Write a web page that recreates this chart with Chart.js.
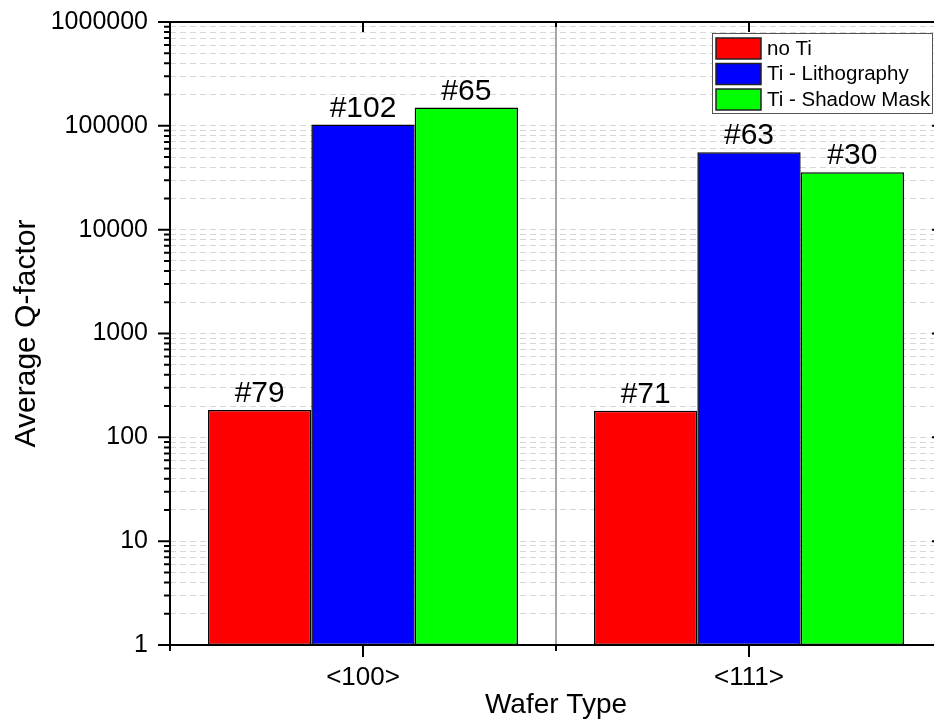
<!DOCTYPE html>
<html>
<head>
<meta charset="utf-8">
<script src="https://cdn.jsdelivr.net/npm/chart.js@4.4.0/dist/chart.umd.min.js"></script>
<style>
  html, body { margin: 0; padding: 0; background: #fff; overflow: hidden; }
  #wrap { width: 960px; height: 724px; }
</style>
</head>
<body>
<div id="wrap"><canvas id="chart" width="960" height="724"></canvas></div>
<script>
const categories = ["<100>", "<111>"];
const seriesNames = ["no Ti", "Ti - Lithography", "Ti - Shadow Mask"];
const seriesColors = ["#ff0000", "#0000ff", "#00ff00"];

const noTi = [183, 180];
const lithography = [103000, 55600];
const shadowMask = [150000, 35700];

const noTiSamples = ["#79", "#71"];
const lithographySamples = ["#102", "#63"];
const shadowMaskSamples = ["#65", "#30"];

const majorTicks = [1, 10, 100, 1000, 10000, 100000, 1000000];
const minorSteps = [2, 3, 4, 5, 6, 7, 8, 9];

const FONT = "'Liberation Sans', Arial, sans-serif";

// all tick positions (majors + minors in each decade)
const allTicks = [];
majorTicks.forEach((v, i) => {
  allTicks.push(v);
  if (i < majorTicks.length - 1) minorSteps.forEach(m => allTicks.push(v * m));
});

function isMajor(v) {
  return majorTicks.includes(v);
}

// axes frame, tick marks, separator line
const framePlugin = {
  id: "frame",
  beforeDatasetsDraw(chart) {
    const { ctx, chartArea: a, scales: { x } } = chart;
    const sep = (x.getPixelForValue(0) + x.getPixelForValue(1)) / 2;
    ctx.save();
    ctx.strokeStyle = "#8a8a8a";
    ctx.lineWidth = 1.5;
    ctx.beginPath();
    ctx.moveTo(sep, a.top);
    ctx.lineTo(sep, a.bottom);
    ctx.stroke();
    ctx.restore();
  },
  afterDraw(chart) {
    const { ctx, chartArea: a, scales: { x, y } } = chart;
    ctx.save();
    ctx.strokeStyle = "#000";
    ctx.lineWidth = 2;
    ctx.strokeRect(a.left, a.top, a.right - a.left, a.bottom - a.top);

    ctx.beginPath();
    y.ticks.forEach(t => {
      const py = y.getPixelForValue(t.value);
      const major = isMajor(t.value);
      ctx.moveTo(a.left - (major ? 12 : 6), py);
      ctx.lineTo(a.left, py);
      ctx.moveTo(a.right, py);
      ctx.lineTo(a.right - (major ? 10 : 5), py);
    });
    categories.forEach((c, i) => {
      const px = x.getPixelForValue(i);
      ctx.moveTo(px, a.bottom);
      ctx.lineTo(px, a.bottom + 12);
      ctx.moveTo(px, a.top);
      ctx.lineTo(px, a.top + 10);
    });
    const sep = (x.getPixelForValue(0) + x.getPixelForValue(1)) / 2;
    [a.left, sep, a.right].forEach(px => {
      ctx.moveTo(px, a.bottom);
      ctx.lineTo(px, a.bottom + 6);
      ctx.moveTo(px, a.top);
      ctx.lineTo(px, a.top + 5);
    });
    ctx.stroke();

    // sample labels above bars
    const samples = [noTiSamples, lithographySamples, shadowMaskSamples];
    ctx.fillStyle = "#000";
    ctx.font = "30px " + FONT;
    ctx.textAlign = "center";
    ctx.textBaseline = "alphabetic";
    chart.data.datasets.forEach((ds, di) => {
      chart.getDatasetMeta(di).data.forEach((bar, i) => {
        ctx.fillText(samples[di][i], bar.x, bar.y - 8);
      });
    });

    // legend box inside plot
    const boxR = a.right - 10, boxT = a.top + 11;
    const boxL = boxR - 220, boxB = boxT + 80;
    ctx.fillStyle = "#fff";
    ctx.fillRect(boxL, boxT, boxR - boxL, boxB - boxT);
    ctx.strokeStyle = "#555";
    ctx.lineWidth = 1;
    ctx.strokeRect(boxL + 0.5, boxT + 0.5, boxR - boxL, boxB - boxT);
    ctx.font = "20.5px " + FONT;
    ctx.textAlign = "left";
    ctx.textBaseline = "middle";
    chart.data.datasets.forEach((ds, di) => {
      const top = boxT + 5 + di * 25.5;
      ctx.fillStyle = ds.backgroundColor;
      ctx.fillRect(boxL + 4, top, 45, 21);
      ctx.strokeStyle = "#222";
      ctx.lineWidth = 1.5;
      ctx.strokeRect(boxL + 4, top, 45, 21);
      ctx.fillStyle = "#000";
      ctx.fillText(ds.label, boxL + 55, top + 11);
    });
    ctx.restore();
  }
};

new Chart(document.getElementById("chart"), {
  type: "bar",
  data: {
    labels: categories,
    datasets: [
      { label: seriesNames[0], data: noTi, backgroundColor: seriesColors[0] },
      { label: seriesNames[1], data: lithography, backgroundColor: seriesColors[1] },
      { label: seriesNames[2], data: shadowMask, backgroundColor: seriesColors[2] }
    ].map(d => Object.assign(d, {
      borderColor: "#000",
      borderWidth: 1.5,
      borderSkipped: false,
      barPercentage: 1,
      categoryPercentage: 0.803
    }))
  },
  options: {
    responsive: false,
    animation: false,
    layout: { padding: { left: 0, right: 18, top: 22, bottom: 0 } },
    plugins: {
      legend: { display: false },
      tooltip: { enabled: false }
    },
    scales: {
      x: {
        grid: { display: false, drawTicks: false },
        border: { display: false },
        ticks: { color: "#000", font: { family: FONT, size: 26 }, padding: 17 },
        title: {
          display: true, text: "Wafer Type", color: "#000",
          font: { family: FONT, size: 28 }, padding: { top: 0, bottom: 2 }
        },
        afterFit(scale) {
          scale.height = 79;
          scale.paddingLeft = 0;
          scale.paddingRight = 0;
        }
      },
      y: {
        type: "logarithmic",
        min: 1,
        max: 1000000,
        afterBuildTicks(scale) {
          scale.ticks = allTicks.map(v => ({ value: v, major: isMajor(v) }));
        },
        grid: { color: "#d6d6d6", lineWidth: 1, drawTicks: false },
        border: { display: false, dash: [6, 4] },
        ticks: {
          autoSkip: false,
          color: "#000",
          font: { family: FONT, size: 25 },
          padding: 22,
          callback: v => (isMajor(v) ? String(v) : "")
        },
        title: {
          display: true, text: "Average Q-factor", color: "#000",
          font: { family: FONT, size: 30 }, padding: { top: 9, bottom: 0 }
        },
        afterFit(scale) {
          scale.width = 170;
          scale.paddingTop = 0;
          scale.paddingBottom = 0;
        }
      }
    }
  },
  plugins: [framePlugin]
});
</script>
</body>
</html>
